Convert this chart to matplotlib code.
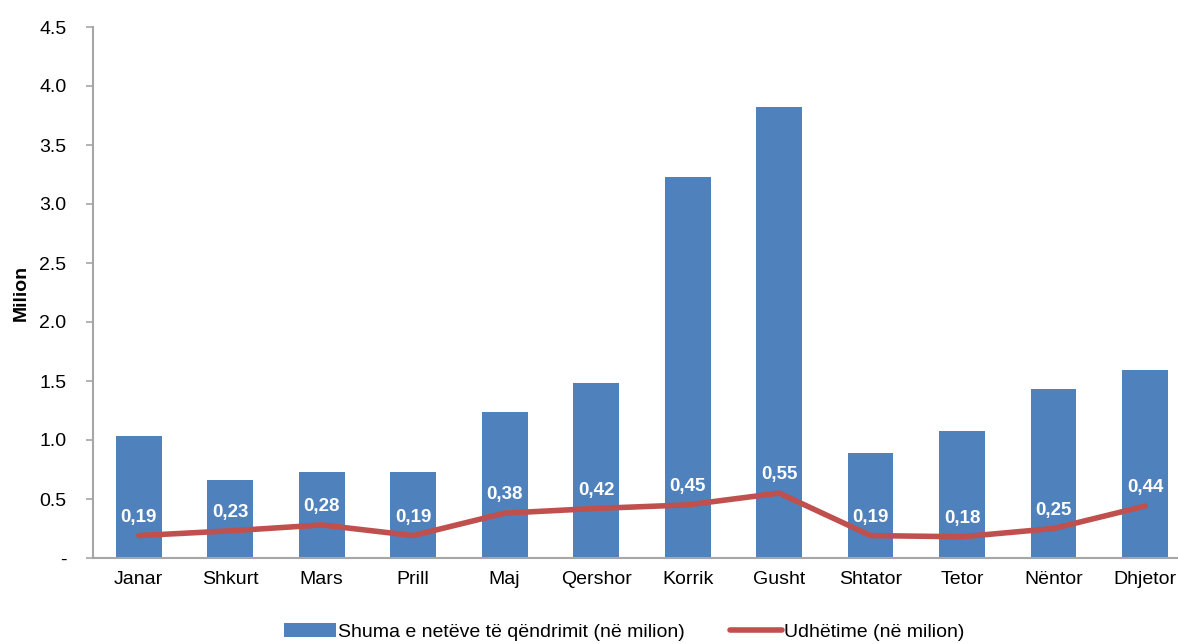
import matplotlib.pyplot as plt
from matplotlib.ticker import FuncFormatter

plt.rcParams['font.family'] = ['Liberation Sans', 'DejaVu Sans']

months = ['Janar', 'Shkurt', 'Mars', 'Prill', 'Maj', 'Qershor', 'Korrik',
          'Gusht', 'Shtator', 'Tetor', 'Nëntor', 'Dhjetor']
nights = [1.03, 0.66, 0.73, 0.73, 1.24, 1.48, 3.23, 3.82, 0.89, 1.08, 1.43, 1.59]
trips = [0.19, 0.23, 0.28, 0.19, 0.38, 0.42, 0.45, 0.55, 0.19, 0.18, 0.25, 0.44]

blue = '#4f81bd'
red = '#c0504d'
grey = '#a6a6a6'

fig = plt.figure(figsize=(11.78, 6.44), dpi=100)
ax = fig.add_axes([93 / 1178, 1 - 558 / 644, 1 - 93 / 1178, (558 - 27) / 644])

x = list(range(len(months)))
bars = ax.bar(x, nights, width=0.5, color=blue)
line, = ax.plot(x, trips, color=red, linewidth=4, solid_capstyle='round')

for xi, v in zip(x, trips):
    ax.annotate(f'{v:.2f}'.replace('.', ','), (xi, v), xytext=(0, 7),
                textcoords='offset points', ha='center', va='bottom',
                color='white', fontsize=13.5, fontweight='bold')

ax.set_xlim(-0.5, 11.36)
ax.set_ylim(0, 4.5)
ax.set_yticks([i * 0.5 for i in range(10)])
ax.yaxis.set_major_formatter(FuncFormatter(lambda v, p: '-' if v == 0 else f'{v:.1f}'))
ax.set_xticks(x)
ax.set_xticklabels(months)
ax.tick_params(axis='x', length=0, pad=9, labelsize=14)
ax.tick_params(axis='y', length=5, width=1.2, color=grey, pad=14, labelsize=14)

for s in ['top', 'right']:
    ax.spines[s].set_visible(False)
for s in ['left', 'bottom']:
    ax.spines[s].set_color(grey)
    ax.spines[s].set_linewidth(1.5)

ax.set_ylabel('Milion', fontsize=14, fontweight='bold')
ax.yaxis.set_label_coords(-0.058, 0.5)

fig.legend([bars, line], ['Shuma e netëve të qëndrimit (në milion)', 'Udhëtime (në milion)'],
           loc='center', bbox_to_anchor=(0.53, 1 - 632 / 644), ncol=2, frameon=False,
           fontsize=14, handlelength=2.7, handleheight=0.7, columnspacing=2.3,
           handletextpad=0.1)

fig.savefig('out.png', dpi=100)
